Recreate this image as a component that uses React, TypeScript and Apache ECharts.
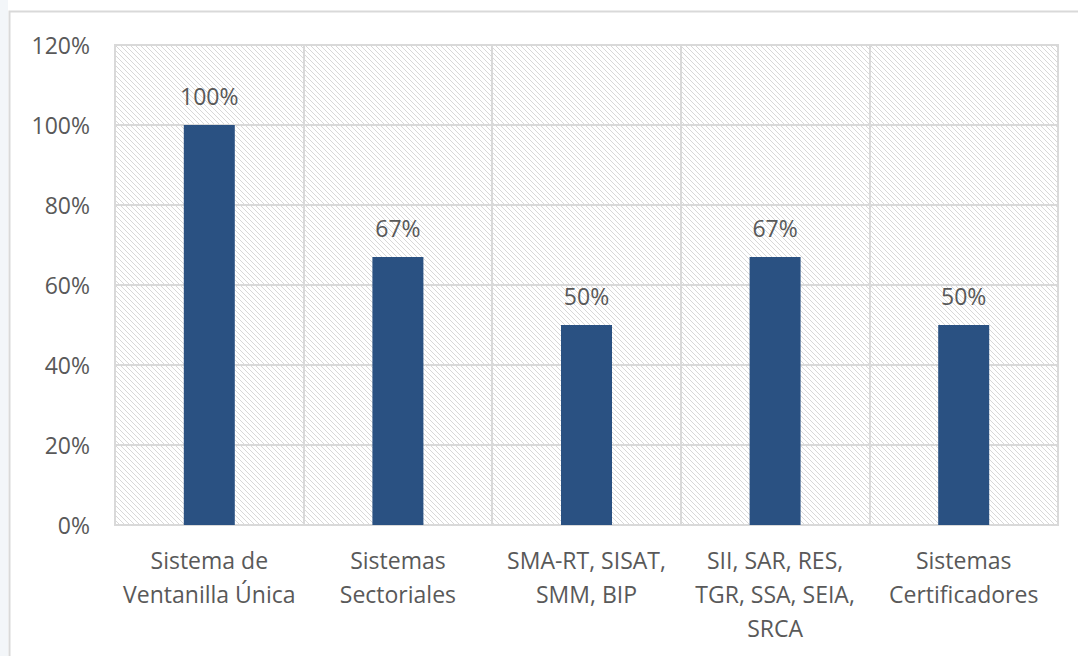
import React, { useEffect, useRef } from "react";
import * as echarts from "echarts";

const categories = [
  "Sistema de\nVentanilla Única",
  "Sistemas\nSectoriales",
  "SMA-RT, SISAT,\nSMM, BIP",
  "SII, SAR, RES,\nTGR, SSA, SEIA,\nSRCA",
  "Sistemas\nCertificadores",
];
const values = [1.0, 0.67, 0.5, 0.67, 0.5];
const yTicks = { min: 0, max: 1.2, interval: 0.2 };

const FONT = "'Open Sans', sans-serif";
const TEXT = "#595959";
const GRID = "#d9d9d9";

const hatchSvg =
  "<svg xmlns='http://www.w3.org/2000/svg' width='5' height='5'>" +
  "<rect width='5' height='5' fill='#ffffff'/>" +
  "<path d='M-1,-1 L6,6 M-1,4 L1,6 M4,-1 L6,1' stroke='#d8d8d8' stroke-width='1'/>" +
  "</svg>";
const hatchUrl = "data:image/svg+xml;charset=utf-8," + encodeURIComponent(hatchSvg);

export default function App() {
  const ref = useRef<HTMLDivElement>(null);
  useEffect(() => {
    if (!ref.current) return;
    const chart = echarts.init(ref.current, undefined, { renderer: "svg" });
    chart.setOption({
      animation: false,
      backgroundColor: "#ffffff",
      graphic: [
        {
          type: "rect",
          shape: { x: 0, y: 0, width: 8, height: 656 },
          style: { fill: "#f3f6f9" },
          silent: true,
        },
        {
          type: "rect",
          shape: { x: 9.5, y: 11.5, width: 1200, height: 1000 },
          style: { fill: "none", stroke: GRID, lineWidth: 2 },
          silent: true,
        },
      ],
      grid: {
        left: 115,
        right: 20,
        top: 45,
        bottom: 131,
        show: true,
        backgroundColor: { image: hatchUrl, repeat: "repeat" },
        borderColor: GRID,
        borderWidth: 2,
      },
      xAxis: {
        type: "category",
        data: categories,
        boundaryGap: true,
        axisLine: { show: true, lineStyle: { color: GRID, width: 2 } },
        axisTick: { show: false },
        splitLine: { show: true, lineStyle: { color: GRID, width: 2 } },
        axisLabel: {
          interval: 0,
          color: TEXT,
          fontFamily: FONT,
          fontSize: 23,
          lineHeight: 34,
          margin: 18,
          align: "center",
        },
      },
      yAxis: {
        type: "value",
        min: yTicks.min,
        max: yTicks.max,
        interval: yTicks.interval,
        axisLine: { show: false },
        axisTick: { show: false },
        splitLine: { show: true, lineStyle: { color: GRID, width: 2 } },
        axisLabel: {
          color: TEXT,
          fontFamily: FONT,
          fontSize: 23,
          margin: 25,
          formatter: (v: number) => Math.round(v * 100) + "%",
        },
      },
      series: [
        {
          type: "bar",
          data: values,
          barWidth: 51,
          itemStyle: { color: "#2a5182" },
          label: {
            show: true,
            position: "top",
            distance: 18,
            color: TEXT,
            fontFamily: FONT,
            fontSize: 23,
            formatter: (p: any) => Math.round(p.value * 100) + "%",
          },
        },
      ],
    });
    return () => chart.dispose();
  }, []);
  return (
    <div
      ref={ref}
      style={{ position: "absolute", left: 0, top: 0, width: 1078, height: 656 }}
    />
  );
}
